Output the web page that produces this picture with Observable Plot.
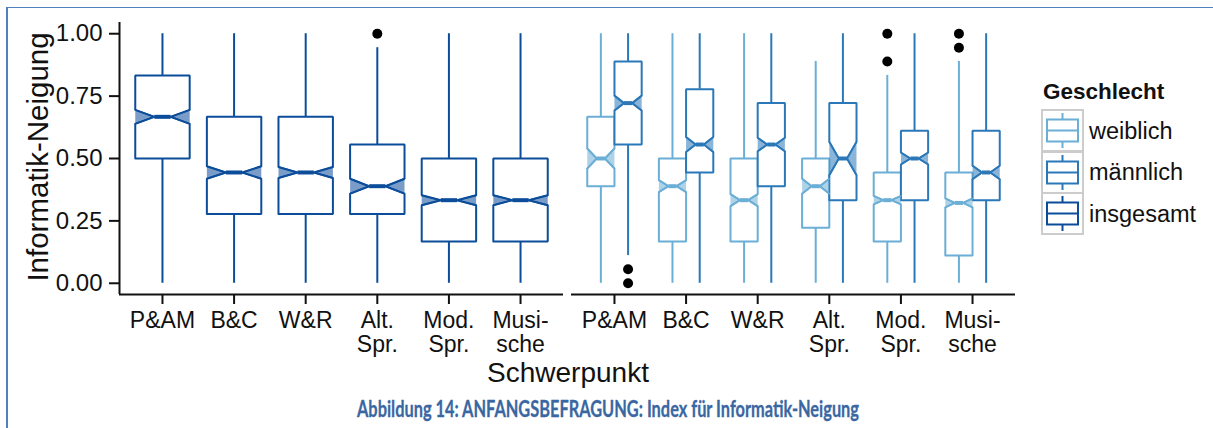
<!DOCTYPE html>
<html>
<head>
<meta charset="utf-8">
<script src="https://cdn.jsdelivr.net/npm/d3@7"></script>
<script src="https://cdn.jsdelivr.net/npm/@observablehq/plot@0.6"></script>
<style>
  body { margin: 0; background: #fff; width: 1213px; height: 428px; position: relative; overflow: hidden;
         font-family: "Liberation Sans", Arial, Helvetica, sans-serif; color: #111; }
  #chart { position: absolute; left: 0; top: 0; }
  .frameL { position: absolute; left: 6px; top: 7px; width: 2px; height: 421px; background: #4f81bd; }
  .frameT { position: absolute; left: 6px; top: 7px; width: 1207px; height: 1px; background: #4f81bd; }
  #ytitle { position: absolute; left: 38px; top: 157px; transform: translate(-50%, -50%) rotate(-90deg);
            font-size: 29.5px; line-height: 1; white-space: nowrap; }
  #xtitle { position: absolute; left: 568px; top: 359px; transform: translateX(-50%); font-size: 28px; line-height: 1; white-space: nowrap; }
  .abs { position: absolute; white-space: nowrap; line-height: 1; }
  #caption { position: absolute; left: 0; top: 395px; }
</style>
</head>
<body>
<div class="frameL"></div>
<div class="frameT"></div>
<div id="chart"></div>
<div id="ytitle">Informatik-Neigung</div>
<div id="xtitle">Schwerpunkt</div>
<div id="legend"></div>
<svg id="caption" width="1213" height="33">
  <text x="608" y="22" text-anchor="middle" textLength="502" lengthAdjust="spacingAndGlyphs"
        style="font-family: Lato, 'Open Sans', sans-serif; font-weight: 700; font-size: 23px; fill: #3a67a2; stroke: #3a67a2; stroke-width: 0.3;">Abbildung 14: ANFANGSBEFRAGUNG: Index für Informatik-Neigung</text>
</svg>
<script>
// ---------- data ----------
const categories = ["P&AM", "B&C", "W&R", "Alt.\nSpr.", "Mod.\nSpr.", "Musi-\nsche"];
const groups = ["weiblich", "männlich", "insgesamt"];
const groupColors = ["#6baed6", "#2b78b8", "#0b4d9a"];
const yTicks = [0, 0.25, 0.5, 0.75, 1];

// insgesamt (left panel)
const gesLow   = [0, 0, 0, 0, 0, 0];
const gesQ1    = [0.5, 0.278, 0.278, 0.278, 0.167, 0.167];
const gesMed   = [0.667, 0.444, 0.444, 0.389, 0.333, 0.333];
const gesQ3    = [0.833, 0.667, 0.667, 0.556, 0.5, 0.5];
const gesHigh  = [1, 1, 1, 0.944, 1, 1];
const gesNotch = [0.028, 0.025, 0.022, 0.03, 0.02, 0.02];

// weiblich (right panel)
const wLow   = [0, 0, 0, 0, 0, 0];
const wQ1    = [0.389, 0.167, 0.167, 0.222, 0.167, 0.111];
const wMed   = [0.5, 0.389, 0.333, 0.389, 0.333, 0.322];
const wQ3    = [0.667, 0.5, 0.5, 0.5, 0.444, 0.444];
const wHigh  = [1, 1, 1, 0.889, 0.833, 0.889];
const wNotch = [0.04, 0.024, 0.024, 0.03, 0.017, 0.018];

// männlich (right panel)
const mLow   = [0.111, 0, 0, 0, 0, 0];
const mQ1    = [0.556, 0.444, 0.389, 0.333, 0.333, 0.333];
const mMed   = [0.722, 0.556, 0.556, 0.5, 0.5, 0.444];
const mQ3    = [0.889, 0.778, 0.722, 0.722, 0.611, 0.611];
const mHigh  = [1, 1, 1, 1, 1, 1];
const mNotch = [0.03, 0.03, 0.027, 0.067, 0.024, 0.027];

// outliers
const outGroup = ["insgesamt", "weiblich", "weiblich", "weiblich", "weiblich", "männlich", "männlich"];
const outCat   = [3, 4, 4, 5, 5, 0, 0];
const outValue = [1.0, 1.0, 0.889, 1.0, 0.944, 0.056, 0.0];

// ---------- layout (dodge) ----------
const panels = ["gesamt", "geschlecht"];
const xDomain = [-0.6, 5.6];
const yDomain = [-0.045, 1.045];
const specs = [
  {group: "insgesamt", panel: "gesamt",     off: 0,     hw: 0.38, lo: gesLow, q1: gesQ1, med: gesMed, q3: gesQ3, hi: gesHigh, n: gesNotch},
  {group: "weiblich",  panel: "geschlecht", off: -0.19, hw: 0.19, lo: wLow,   q1: wQ1,   med: wMed,   q3: wQ3,   hi: wHigh,   n: wNotch},
  {group: "männlich",  panel: "geschlecht", off: 0.19,  hw: 0.19, lo: mLow,   q1: mQ1,   med: mMed,   q3: mQ3,   hi: mHigh,   n: mNotch}
];
const offOf = Object.fromEntries(specs.map(s => [s.group, s]));

const boxes = [];
specs.forEach(s => categories.forEach((c, i) => {
  const cx = i + s.off;
  boxes.push({key: s.group + i, group: s.group, panel: s.panel, cx, xl: cx - s.hw, xr: cx + s.hw,
              ind: s.hw * 0.7, lo: s.lo[i], q1: s.q1[i], med: s.med[i], q3: s.q3[i], hi: s.hi[i], n: s.n[i]});
}));

const outline = [], wedges = [];
boxes.forEach(b => {
  const pts = [[b.xl, b.q1], [b.xl, b.med - b.n], [b.xl + b.ind, b.med], [b.xl, b.med + b.n], [b.xl, b.q3],
               [b.xr, b.q3], [b.xr, b.med + b.n], [b.xr - b.ind, b.med], [b.xr, b.med - b.n], [b.xr, b.q1], [b.xl, b.q1]];
  pts.forEach(([x, y]) => outline.push({key: b.key, group: b.group, panel: b.panel, x, y}));
  [[[b.xl, b.med - b.n], [b.xl + b.ind, b.med], [b.xl, b.med + b.n]],
   [[b.xr, b.med - b.n], [b.xr - b.ind, b.med], [b.xr, b.med + b.n]]].forEach((tri, k) =>
    tri.forEach(([x, y]) => wedges.push({key: b.key + "w" + k, group: b.group, panel: b.panel, x, y})));
});

const outliers = outGroup.map((g, j) => ({group: g, panel: offOf[g].panel, x: outCat[j] + offOf[g].off, y: outValue[j]}));

// ---------- plot ----------
const plot = Plot.plot({
  width: 1213, height: 395,
  marginLeft: 118, marginRight: 198, marginTop: 22, marginBottom: 101,
  style: {fontFamily: '"Liberation Sans", Arial, Helvetica, sans-serif', fontSize: "23px", color: "#111", background: "transparent", overflow: "visible"},
  fx: {domain: panels, paddingInner: 0.0177, paddingOuter: 0, axis: null, label: null},
  x: {domain: xDomain},
  y: {domain: yDomain},
  color: {domain: groups, range: groupColors},
  marks: [
    Plot.axisY({ticks: yTicks, tickFormat: d3.format(".2f"), tickSize: 10, tickPadding: 7, fontSize: 24, label: null, strokeWidth: 2}),
    Plot.axisX({ticks: [0, 1, 2, 3, 4, 5], tickFormat: i => categories[i], tickSize: 10, tickPadding: 7, fontSize: 23, lineHeight: 1.02, label: null, strokeWidth: 2}),
    Plot.ruleY([yDomain[0]], {strokeWidth: 2, stroke: "#111"}),
    Plot.ruleX([{panel: "gesamt"}], {x: () => xDomain[0], fx: "panel", strokeWidth: 2, stroke: "#111"}),
    Plot.ruleX(boxes, {fx: "panel", x: "cx", y1: "q3", y2: "hi", stroke: "group", strokeWidth: 2}),
    Plot.ruleX(boxes, {fx: "panel", x: "cx", y1: "lo", y2: "q1", stroke: "group", strokeWidth: 2}),
    Plot.line(outline, {fx: "panel", x: "x", y: "y", z: "key", stroke: "group", fill: "white", strokeWidth: 2, strokeLinejoin: "miter", curve: "linear"}),
    Plot.line(wedges, {fx: "panel", x: "x", y: "y", z: "key", stroke: "group", fill: "group", fillOpacity: 0.55, strokeWidth: 1.5}),
    Plot.link(boxes, {fx: "panel", x1: d => d.xl + d.ind, x2: d => d.xr - d.ind, y1: "med", y2: "med", stroke: "group", strokeWidth: 4}),
    Plot.dot(outliers, {fx: "panel", x: "x", y: "y", r: 5, fill: "black", stroke: null})
  ]
});
document.getElementById("chart").appendChild(plot);

// ---------- legend ----------
const legend = document.getElementById("legend");
const title = document.createElement("div");
title.className = "abs";
title.textContent = "Geschlecht";
Object.assign(title.style, {left: "1043px", top: "81px", fontSize: "22.5px", fontWeight: "bold"});
legend.appendChild(title);
const legendOrder = ["weiblich", "männlich", "insgesamt"];
legendOrder.forEach((g, k) => {
  const top = 109 + k * 41.5;
  const col = groupColors[groups.indexOf(g)];
  const key = document.createElementNS("http://www.w3.org/2000/svg", "svg");
  key.setAttribute("width", 43); key.setAttribute("height", 43);
  key.style.position = "absolute"; key.style.left = "1041px"; key.style.top = top + "px";
  key.innerHTML = `<rect x="1" y="1" width="41" height="41" fill="#fff" stroke="#cccccc" stroke-width="2"/>
    <line x1="21.5" x2="21.5" y1="4" y2="39" stroke="${col}" stroke-width="2"/>
    <rect x="6" y="10.5" width="31" height="22" fill="#fff" stroke="${col}" stroke-width="2"/>
    <line x1="6" x2="37" y1="21.5" y2="21.5" stroke="${col}" stroke-width="2"/>`;
  legend.appendChild(key);
  const lab = document.createElement("div");
  lab.className = "abs";
  lab.textContent = g;
  Object.assign(lab.style, {left: "1089px", top: (top + 10.5) + "px", fontSize: "23.5px"});
  legend.appendChild(lab);
});
</script>
</body>
</html>
